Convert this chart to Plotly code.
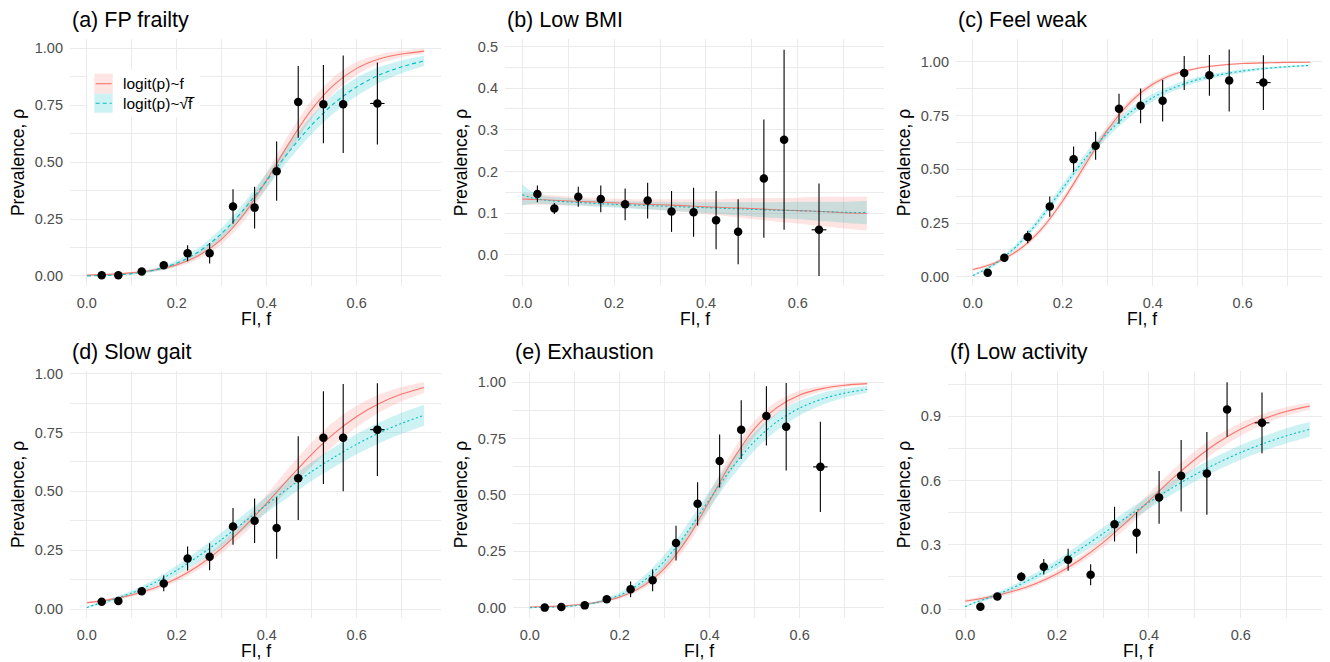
import plotly.graph_objects as go

# The page body has an 8px default margin, so the figure is drawn 8px smaller
# and every reference pixel position is shifted by that offset.
WIN_W, WIN_H = 1330, 662
OFF = 8
W, H = WIN_W - OFF, WIN_H - OFF

# ---------------- data ----------------
fi_bins = [0.033, 0.07, 0.122, 0.171, 0.224, 0.273, 0.325, 0.373, 0.422, 0.47, 0.526, 0.57, 0.646]
fi_xerr = [0, 0, 0, 0, 0, 0, 0, 0, 0, 0, 0, 0, 0.016]
f_grid = [0, 0.02, 0.05, 0.1, 0.15, 0.2, 0.25, 0.3, 0.35, 0.4, 0.45, 0.5, 0.55, 0.6, 0.65, 0.7, 0.75]

# (a) FP frailty
frail_prev = [0.003, 0.003, 0.02, 0.047, 0.10, 0.10, 0.305, 0.30, 0.46, 0.764, 0.754, 0.754, 0.757]
frail_err = [0.002, 0.002, 0.006, 0.013, 0.035, 0.045, 0.076, 0.092, 0.13, 0.157, 0.172, 0.214, 0.18]
frail_lin = [0.0037, 0.0048, 0.0071, 0.0137, 0.0261, 0.0493, 0.0911, 0.162, 0.273, 0.421, 0.584, 0.731, 0.840, 0.911, 0.952, 0.974, 0.987]
frail_lin_hw = [0.002, 0.002, 0.003, 0.005, 0.007, 0.01, 0.015, 0.022, 0.03, 0.035, 0.04, 0.04, 0.035, 0.028, 0.02, 0.014, 0.01]
frail_sqrt = [0.0001, 0.001, 0.0029, 0.0102, 0.0258, 0.0563, 0.108, 0.187, 0.294, 0.419, 0.547, 0.663, 0.758, 0.830, 0.882, 0.918, 0.944]
frail_sqrt_hw = [0.0002, 0.001, 0.002, 0.004, 0.007, 0.012, 0.018, 0.025, 0.03, 0.033, 0.036, 0.04, 0.042, 0.04, 0.035, 0.028, 0.022]

# (b) Low BMI
bmi_prev = [0.146, 0.111, 0.139, 0.134, 0.121, 0.130, 0.104, 0.102, 0.083, 0.055, 0.183, 0.276, 0.06]
bmi_err = [0.02, 0.013, 0.024, 0.032, 0.038, 0.043, 0.049, 0.059, 0.07, 0.078, 0.142, 0.216, 0.111]
bmi_lin = [0.134, 0.133, 0.132, 0.129, 0.127, 0.125, 0.122, 0.120, 0.118, 0.115, 0.113, 0.111, 0.108, 0.106, 0.104, 0.101, 0.099]
bmi_lin_hw = [0.014, 0.013, 0.012, 0.011, 0.010, 0.010, 0.011, 0.013, 0.015, 0.018, 0.021, 0.025, 0.028, 0.031, 0.035, 0.038, 0.041]
bmi_sqrt = [0.144, 0.137, 0.131, 0.127, 0.124, 0.121, 0.119, 0.117, 0.115, 0.113, 0.111, 0.109, 0.107, 0.106, 0.104, 0.102, 0.101]
bmi_sqrt_hw = [0.026, 0.015, 0.010, 0.009, 0.008, 0.008, 0.009, 0.010, 0.011, 0.013, 0.015, 0.017, 0.019, 0.021, 0.023, 0.025, 0.028]

# (c) Feel weak
weak_prev = [0.019, 0.089, 0.185, 0.327, 0.547, 0.61, 0.782, 0.796, 0.82, 0.949, 0.938, 0.914, 0.904]
weak_err = [0.006, 0.01, 0.029, 0.047, 0.06, 0.065, 0.07, 0.081, 0.097, 0.079, 0.095, 0.144, 0.127]
weak_lin = [0.034, 0.044, 0.0652, 0.122, 0.216, 0.354, 0.522, 0.685, 0.812, 0.896, 0.945, 0.971, 0.985, 0.993, 0.996, 0.998, 0.999]
weak_lin_hw = [0.006, 0.007, 0.008, 0.010, 0.013, 0.016, 0.02, 0.02, 0.018, 0.013, 0.009, 0.006, 0.004, 0.003, 0.002, 0.001, 0.001]
weak_sqrt = [0.006, 0.026, 0.061, 0.148, 0.270, 0.412, 0.551, 0.671, 0.765, 0.834, 0.883, 0.918, 0.941, 0.958, 0.970, 0.978, 0.984]
weak_sqrt_hw = [0.004, 0.006, 0.008, 0.012, 0.016, 0.02, 0.022, 0.022, 0.02, 0.018, 0.015, 0.012, 0.01, 0.008, 0.006, 0.005, 0.004]

# (d) Slow gait
gait_prev = [0.031, 0.034, 0.076, 0.109, 0.215, 0.222, 0.351, 0.375, 0.344, 0.556, 0.728, 0.728, 0.762]
gait_err = [0.005, 0.005, 0.014, 0.033, 0.051, 0.057, 0.078, 0.095, 0.13, 0.178, 0.197, 0.228, 0.197]
gait_lin = [0.0266, 0.0314, 0.0401, 0.060, 0.0891, 0.130, 0.186, 0.259, 0.349, 0.450, 0.556, 0.657, 0.746, 0.818, 0.873, 0.913, 0.941]
gait_lin_hw = [0.005, 0.005, 0.006, 0.008, 0.01, 0.013, 0.017, 0.022, 0.028, 0.036, 0.045, 0.05, 0.05, 0.045, 0.038, 0.03, 0.023]
gait_sqrt = [0.0067, 0.0192, 0.0352, 0.0683, 0.111, 0.165, 0.227, 0.296, 0.370, 0.444, 0.516, 0.584, 0.645, 0.700, 0.748, 0.789, 0.823]
gait_sqrt_hw = [0.003, 0.005, 0.007, 0.01, 0.015, 0.02, 0.025, 0.03, 0.033, 0.035, 0.038, 0.04, 0.042, 0.043, 0.044, 0.045, 0.045]

# (e) Exhaustion
exh_prev = [0.0, 0.003, 0.010, 0.037, 0.081, 0.121, 0.286, 0.46, 0.65, 0.789, 0.85, 0.802, 0.624]
exh_err = [0.002, 0.002, 0.005, 0.012, 0.035, 0.048, 0.077, 0.096, 0.118, 0.13, 0.131, 0.194, 0.2]
exh_lin = [0.0027, 0.0036, 0.0056, 0.0115, 0.0235, 0.0474, 0.0932, 0.175, 0.305, 0.475, 0.651, 0.794, 0.888, 0.943, 0.971, 0.986, 0.993]
exh_lin_hw = [0.001, 0.001, 0.002, 0.003, 0.005, 0.008, 0.013, 0.02, 0.03, 0.038, 0.04, 0.035, 0.028, 0.02, 0.012, 0.008, 0.005]
exh_sqrt = [0.0001, 0.0006, 0.0021, 0.0083, 0.0234, 0.0554, 0.114, 0.208, 0.335, 0.481, 0.621, 0.738, 0.825, 0.885, 0.925, 0.951, 0.968]
exh_sqrt_hw = [0.0, 0.0005, 0.001, 0.003, 0.006, 0.012, 0.02, 0.028, 0.034, 0.038, 0.04, 0.04, 0.038, 0.033, 0.027, 0.02, 0.015]

# (f) Low activity
act_prev = [0.011, 0.058, 0.151, 0.197, 0.23, 0.16, 0.396, 0.356, 0.521, 0.622, 0.633, 0.931, 0.869]
act_err = [0.006, 0.008, 0.021, 0.036, 0.051, 0.049, 0.081, 0.097, 0.123, 0.167, 0.193, 0.127, 0.142]
act_lin = [0.0370, 0.0433, 0.0547, 0.0802, 0.116, 0.165, 0.230, 0.310, 0.404, 0.505, 0.606, 0.698, 0.777, 0.840, 0.888, 0.923, 0.947]
act_lin_hw = [0.008, 0.008, 0.009, 0.01, 0.012, 0.015, 0.018, 0.022, 0.028, 0.034, 0.038, 0.038, 0.035, 0.03, 0.025, 0.02, 0.017]
act_sqrt = [0.011, 0.0294, 0.0515, 0.0949, 0.148, 0.210, 0.279, 0.352, 0.426, 0.498, 0.565, 0.627, 0.682, 0.731, 0.773, 0.809, 0.839]
act_sqrt_hw = [0.004, 0.006, 0.008, 0.012, 0.016, 0.02, 0.025, 0.028, 0.03, 0.03, 0.031, 0.032, 0.033, 0.034, 0.034, 0.035, 0.035]

titles = ["(a) FP frailty", "(b) Low BMI", "(c) Feel weak", "(d) Slow gait", "(e) Exhaustion", "(f) Low activity"]
legend_labels = ["logit(p)~f", "logit(p)~√f\u0305"]
x_title = "FI, f"
y_title = "Prevalence, ρ"
x_ticks = [0.0, 0.2, 0.4, 0.6]

# ---------------- style ----------------
RED = "#F8766D"
TEAL = "#00BFC4"
RED_FILL = "rgba(248,118,109,0.2)"
TEAL_FILL = "rgba(0,191,196,0.2)"
FONT = "Liberation Sans, Arial, Helvetica, sans-serif"
GRID = "#EBEBEB"


def px_x(v):
    return (v - OFF) / W


def px_y(v):
    return 1 - (v - OFF) / H


panels = [
    dict(prev=frail_prev, err=frail_err, lin=frail_lin, lin_hw=frail_lin_hw, sq=frail_sqrt, sq_hw=frail_sqrt_hw,
         px=(70, 441), py=(39, 286), yr=[-0.044, 1.04], dt=0.25, fmt=".2f", dash="4px,3px"),
    dict(prev=bmi_prev, err=bmi_err, lin=bmi_lin, lin_hw=bmi_lin_hw, sq=bmi_sqrt, sq_hw=bmi_sqrt_hw,
         px=(505, 884), py=(39, 286), yr=[-0.075, 0.518], dt=0.1, fmt=".1f", dash="2px,2.5px"),
    dict(prev=weak_prev, err=weak_err, lin=weak_lin, lin_hw=weak_lin_hw, sq=weak_sqrt, sq_hw=weak_sqrt_hw,
         px=(956, 1327), py=(39, 286), yr=[-0.043, 1.107], dt=0.25, fmt=".2f", dash="2px,2.5px"),
    dict(prev=gait_prev, err=gait_err, lin=gait_lin, lin_hw=gait_lin_hw, sq=gait_sqrt, sq_hw=gait_sqrt_hw,
         px=(70, 441), py=(371, 618), yr=[-0.038, 1.011], dt=0.25, fmt=".2f", dash="2px,2.5px"),
    dict(prev=exh_prev, err=exh_err, lin=exh_lin, lin_hw=exh_lin_hw, sq=exh_sqrt, sq_hw=exh_sqrt_hw,
         px=(513, 884), py=(371, 618), yr=[-0.046, 1.049], dt=0.25, fmt=".2f", dash="2px,2.5px"),
    dict(prev=act_prev, err=act_err, lin=act_lin, lin_hw=act_lin_hw, sq=act_sqrt, sq_hw=act_sqrt_hw,
         px=(948, 1327), py=(371, 618), yr=[-0.042, 1.111], dt=0.3, fmt=".1f", dash="2px,2.5px"),
]

fig = go.Figure()
layout = dict(
    width=W, height=H, margin=dict(l=0, r=0, t=0, b=0, autoexpand=False),
    paper_bgcolor="white", plot_bgcolor="white", showlegend=False,
    font=dict(family=FONT, color="black"),
)
annotations = []
shapes = []

for i, p in enumerate(panels):
    sfx = "" if i == 0 else str(i + 1)
    xa, ya = "x" + sfx, "y" + sfx
    # ribbons: lower edge, then upper edge filled to it
    for mid, hw, col in [(p["lin"], p["lin_hw"], RED_FILL), (p["sq"], p["sq_hw"], TEAL_FILL)]:
        lo = [m - h for m, h in zip(mid, hw)]
        hi = [m + h for m, h in zip(mid, hw)]
        fig.add_trace(go.Scatter(x=f_grid, y=lo, mode="lines",
                                 line=dict(width=0, shape="spline", smoothing=0.8, color=col),
                                 hoverinfo="skip", xaxis=xa, yaxis=ya))
        fig.add_trace(go.Scatter(x=f_grid, y=hi, mode="lines", fill="tonexty", fillcolor=col,
                                 line=dict(width=0, shape="spline", smoothing=0.8, color=col),
                                 hoverinfo="skip", xaxis=xa, yaxis=ya))
    # fitted lines
    fig.add_trace(go.Scatter(x=f_grid, y=p["lin"], mode="lines",
                             line=dict(color=RED, width=1.1, shape="spline", smoothing=0.8),
                             xaxis=xa, yaxis=ya))
    fig.add_trace(go.Scatter(x=f_grid, y=p["sq"], mode="lines",
                             line=dict(color=TEAL, width=1.1, dash=p["dash"], shape="spline", smoothing=0.8),
                             xaxis=xa, yaxis=ya))
    # observed prevalence with error bars
    fig.add_trace(go.Scatter(
        x=fi_bins, y=p["prev"], mode="markers",
        marker=dict(color="black", size=8.5),
        error_y=dict(type="data", array=p["err"], color="black", thickness=1.1, width=0),
        error_x=dict(type="data", array=fi_xerr, color="black", thickness=1.1, width=0),
        xaxis=xa, yaxis=ya))

    x0, x1 = p["px"]
    y0, y1 = p["py"]
    layout["xaxis" + sfx] = dict(
        domain=[px_x(x0), px_x(x1)], anchor=ya, range=[-0.0375, 0.7875], automargin=False,
        tickmode="array", tickvals=x_ticks, tickformat=".1f",
        showgrid=True, gridcolor=GRID, gridwidth=1.2, zeroline=False, showline=False,
        ticks="", ticklabelstandoff=6,
        tickfont=dict(size=14.5, color="#4D4D4D", family=FONT),
        minor=dict(tickvals=[0.1, 0.3, 0.5, 0.7], showgrid=True, gridcolor=GRID, gridwidth=0.6, ticks=""),
    )
    ymin, ymax = p["yr"]
    dt = p["dt"]
    majors = [round(k * dt, 4) for k in range(-2, 8) if ymin <= k * dt <= ymax]
    minors = [round((k + 0.5) * dt, 4) for k in range(-2, 8) if ymin <= (k + 0.5) * dt <= ymax]
    layout["yaxis" + sfx] = dict(
        domain=[px_y(y1), px_y(y0)], anchor=xa, range=p["yr"], automargin=False,
        tickmode="array", tickvals=majors, tickformat=p["fmt"],
        showgrid=True, gridcolor=GRID, gridwidth=1.2, zeroline=False, showline=False,
        ticks="", ticklabelstandoff=6,
        tickfont=dict(size=14.5, color="#4D4D4D", family=FONT),
        minor=dict(tickvals=minors, showgrid=True, gridcolor=GRID, gridwidth=0.6, ticks=""),
        title=dict(text=y_title, font=dict(size=17.5, color="black", family=FONT), standoff=5),
    )
    # panel title
    annotations.append(dict(
        text=titles[i], xref="paper", yref="paper", x=px_x(x0), y=px_y(y0 - 19),
        xanchor="left", yanchor="middle", showarrow=False,
        font=dict(size=21.5, color="black", family=FONT)))
    # x-axis title
    annotations.append(dict(
        text=x_title, xref="paper", yref="paper", x=px_x((x0 + x1) / 2), y=px_y(y1 + 32.5),
        xanchor="center", yanchor="middle", showarrow=False,
        font=dict(size=17.5, color="black", family=FONT)))

# ---------------- manual legend in panel (a) ----------------
shapes.append(dict(type="rect", xref="paper", yref="paper", x0=px_x(87), x1=px_x(200), y0=px_y(117), y1=px_y(70),
                   fillcolor="white", line=dict(width=0), layer="above"))
key_rows = [(73.7, 93.7, RED_FILL, RED, "solid"), (93.7, 112.7, TEAL_FILL, TEAL, "dash")]
for (ky0, ky1, fillc, linec, dsh), label in zip(key_rows, legend_labels):
    shapes.append(dict(type="rect", xref="paper", yref="paper", x0=px_x(94.3), x1=px_x(112.7),
                       y0=px_y(ky1), y1=px_y(ky0), fillcolor=fillc, line=dict(width=0), layer="above"))
    yc = (ky0 + ky1) / 2
    shapes.append(dict(type="line", xref="paper", yref="paper", x0=px_x(95.7), x1=px_x(111.7),
                       y0=px_y(yc), y1=px_y(yc),
                       line=dict(color=linec, width=1.1, dash="4px,3px" if dsh == "dash" else "solid"),
                       layer="above"))
    annotations.append(dict(text=label, xref="paper", yref="paper", x=px_x(120.5), y=px_y(yc),
                            xanchor="left", yanchor="middle", showarrow=False,
                            font=dict(size=15.5, color="black", family=FONT)))

layout["annotations"] = annotations
layout["shapes"] = shapes
fig.update_layout(**layout)
fig.write_html("out.html")
